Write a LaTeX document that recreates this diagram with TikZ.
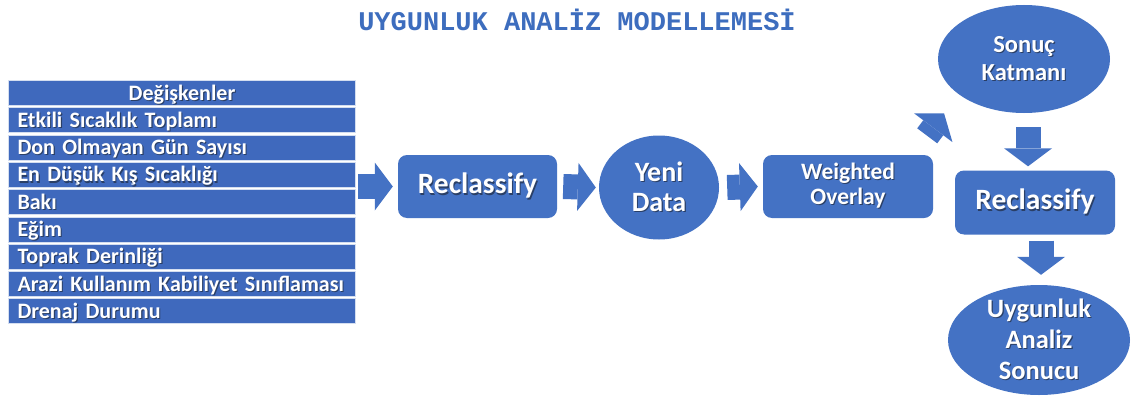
\documentclass[tikz,border=0pt]{standalone}
\usepackage{fontspec}
\setmainfont{Carlito}
\newfontfamily\titlefont{Liberation Mono}
\usetikzlibrary{shapes.geometric,arrows.meta,calc}
\definecolor{boxblue}{HTML}{4472C4}
\definecolor{rowblue}{HTML}{3F69BD}
\definecolor{rowedge}{HTML}{D4DEF0}
\definecolor{titleblue}{HTML}{3D6DBE}
\definecolor{shadowc}{HTML}{2A3F66}
\newcommand\sht[1]{\leavevmode\rlap{\kern1.1pt\raisebox{-1.1pt}{\textcolor{shadowc}{#1}}}#1}
\begin{document}
\begin{tikzpicture}[x=1pt,y=-1pt,
  rowbox/.style={fill=rowblue, draw=rowedge, line width=1pt, anchor=north west,
    minimum width=347pt, minimum height=25pt, inner xsep=9pt, inner ysep=2.5pt,
    text width=329pt, text height=17pt, text depth=3pt, align=left, text=white,
    font=\fontsize{22}{24}\selectfont\bfseries},
  rbox/.style={fill=boxblue, draw=none, rounded corners=9pt, text=white, align=center, inner sep=0pt},
  ebox/.style={ellipse, fill=boxblue, draw=none, inner sep=0pt},
  etext/.style={text=white, align=center, inner sep=0pt},
  barrow/.style={draw=boxblue, line width=25pt,
    -{Triangle[width=48pt,length=18pt,line width=0pt,fill=boxblue]}}
]
\useasboundingbox (0,0) rectangle (1131,396);
\fill[white] (0,0) rectangle (1131,396);

\node[text=titleblue, font=\titlefont\bfseries\fontsize{27}{30}\selectfont, inner sep=0pt]
  (title) at (577,20) {UYGUNLUK ANALİZ MODELLEMESİ};

\node[rowbox, align=center] (r0) at (8,80) {\sht{Değişkenler}};
\node[rowbox] (r1) at (8,107.3) {\sht{Etkili Sıcaklık Toplamı}};
\node[rowbox] (r2) at (8,134.6) {\sht{Don Olmayan Gün Sayısı}};
\node[rowbox] (r3) at (8,161.9) {\sht{En Düşük Kış Sıcaklığı}};
\node[rowbox] (r4) at (8,189.2) {\sht{Bakı}};
\node[rowbox] (r5) at (8,216.5) {\sht{Eğim}};
\node[rowbox] (r6) at (8,243.8) {\sht{Toprak Derinliği}};
\node[rowbox] (r7) at (8,271.1) {\sht{Arazi Kullanım Kabiliyet Sınıflaması}};
\node[rowbox] (r8) at (8,298.4) {\sht{Drenaj Durumu}};

\node[rbox, minimum width=159pt, minimum height=63pt, font=\fontsize{29.5}{32}\selectfont\bfseries]
  (rc1) at (477.5,186.5) {\sht{Reclassify}};
\node[ebox, minimum width=120pt, minimum height=104pt,
  label={[etext, font=\fontsize{28}{30}\selectfont\bfseries]center:{\sht{Yeni}\\\sht{Data}}}]
  (yd) at (659,187.5) {};
\node[rbox, minimum width=170pt, minimum height=63pt, font=\fontsize{23.5}{25}\selectfont\bfseries]
  (wo) at (848,186.5) {\sht{Weighted}\\\sht{Overlay}};
\node[ebox, minimum width=172pt, minimum height=108pt,
  label={[etext, font=\fontsize{24.5}{28}\selectfont\bfseries]center:{\sht{Sonuç}\\\sht{Katmanı}}}]
  (sk) at (1024,59) {};
\node[rbox, minimum width=160pt, minimum height=64pt, font=\fontsize{29.5}{32}\selectfont\bfseries]
  (rc2) at (1035,202.5) {\sht{Reclassify}};
\node[ebox, minimum width=182pt, minimum height=110pt,
  label={[etext, font=\fontsize{26.5}{31}\selectfont\bfseries]center:{\sht{Uygunluk}\\\sht{Analiz}\\\sht{Sonucu}}}]
  (uas) at (1039,340) {};

\draw[barrow] ($(r0.east |- rc1.center)+(2,0)$) -- ($(rc1.west)+(-5,0)$);
\draw[barrow] ($(rc1.east)+(6,0)$) -- ($(yd.west)+(-3,0)$);
\draw[barrow] ($(yd.east)+(8,0)$) -- ($(wo.west)+(-5,0)$);
\draw[barrow] ($(wo.north east)+(-6,-19)$) -- ($(sk.south west)+(-19,16)$);
\draw[barrow] ($(sk.south)+(4,14)$) -- ($(rc2.north)+(-7,-4)$);
\draw[barrow] ($(rc2.south)+(6,6)$) -- ($(uas.north)+(2,-10)$);
\end{tikzpicture}
\end{document}
